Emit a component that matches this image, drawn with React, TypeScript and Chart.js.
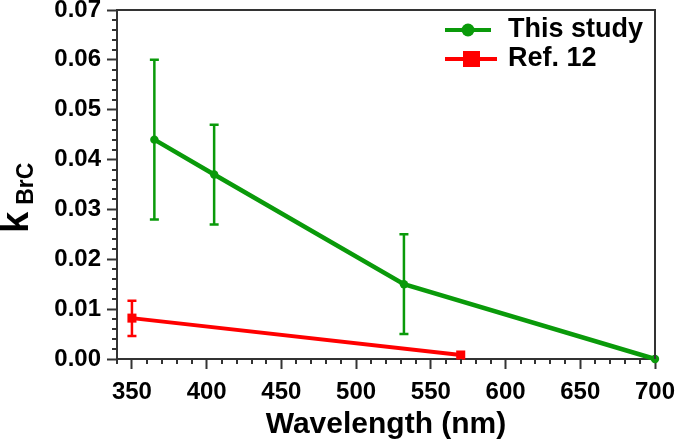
import React, { useEffect, useRef } from 'react';
import { Chart, registerables } from 'chart.js';

Chart.register(...registerables);

// ---------- data ----------
const thisStudyWavelength = [365, 405, 532, 700];
const thisStudyK = [0.044, 0.037, 0.015, 0.0];
const thisStudyLow = [0.028, 0.027, 0.005, null];
const thisStudyHigh = [0.06, 0.047, 0.025, null];

const refWavelength = [350, 570];
const refK = [0.0082, 0.0008];
const refLow = [0.0046, null];
const refHigh = [0.0117, null];

const xTickValues = [350, 400, 450, 500, 550, 600, 650, 700];
const yTickValues = [0.0, 0.01, 0.02, 0.03, 0.04, 0.05, 0.06, 0.07];
const xMinorStep = 10;
const yMinorStep = 0.002;

const seriesLabels = ['This study', 'Ref. 12'];
const xTitle = 'Wavelength (nm)';
const yTitleMain = 'k';
const yTitleSub = 'BrC';

const GREEN = '#0a9a0a';
const RED = '#ff0000';
const AXIS = '#333333';
const FONT = "'Liberation Sans', Arial, sans-serif";

const errorBarPlugin = {
  id: 'errorBars',
  afterDatasetsDraw(chart: any) {
    const { ctx, scales } = chart;
    const xs = scales.x;
    const ys = scales.y;
    const sets = [
      { wl: thisStudyWavelength, lo: thisStudyLow, hi: thisStudyHigh, color: GREEN },
      { wl: refWavelength, lo: refLow, hi: refHigh, color: RED },
    ];
    ctx.save();
    for (const s of sets) {
      ctx.strokeStyle = s.color;
      ctx.lineWidth = 2.5;
      for (let i = 0; i < s.wl.length; i++) {
        const lo = s.lo[i];
        const hi = s.hi[i];
        if (lo == null || hi == null) continue;
        const x = xs.getPixelForValue(s.wl[i]);
        const y1 = ys.getPixelForValue(lo);
        const y2 = ys.getPixelForValue(hi);
        ctx.beginPath();
        ctx.moveTo(x, y1);
        ctx.lineTo(x, y2);
        ctx.moveTo(x - 4.5, y1);
        ctx.lineTo(x + 4.5, y1);
        ctx.moveTo(x - 4.5, y2);
        ctx.lineTo(x + 4.5, y2);
        ctx.stroke();
      }
    }
    ctx.restore();
  },
};

const framePlugin = {
  id: 'frameAndMinor',
  afterDraw(chart: any) {
    const { ctx, chartArea, scales } = chart;
    const xs = scales.x;
    const ys = scales.y;
    ctx.save();
    ctx.strokeStyle = AXIS;
    ctx.lineWidth = 2;
    // top & right frame
    ctx.beginPath();
    ctx.moveTo(chartArea.left, chartArea.top);
    ctx.lineTo(chartArea.right, chartArea.top);
    ctx.lineTo(chartArea.right, chartArea.bottom);
    ctx.stroke();
    // minor ticks x
    ctx.beginPath();
    for (let v = xs.min; v <= xs.max + 1e-9; v += xMinorStep) {
      if (xTickValues.some((t) => Math.abs(t - v) < 1e-6)) continue;
      const x = Math.round(xs.getPixelForValue(v));
      ctx.moveTo(x, chartArea.bottom);
      ctx.lineTo(x, chartArea.bottom + 5);
    }
    // minor ticks y
    for (let k = 0; k * yMinorStep <= ys.max + 1e-9; k++) {
      const v = k * yMinorStep;
      if (yTickValues.some((t) => Math.abs(t - v) < 1e-9)) continue;
      const y = Math.round(ys.getPixelForValue(v));
      ctx.moveTo(chartArea.left, y);
      ctx.lineTo(chartArea.left - 5, y);
    }
    ctx.stroke();

    // y title: k_BrC rotated
    ctx.fillStyle = '#000';
    ctx.translate(28, 233);
    ctx.rotate(-Math.PI / 2);
    ctx.textAlign = 'left';
    ctx.textBaseline = 'alphabetic';
    ctx.font = `bold 38px ${FONT}`;
    ctx.fillText(yTitleMain, 0, 0);
    const kw = ctx.measureText(yTitleMain).width;
    ctx.font = `bold 23px ${FONT}`;
    ctx.fillText(yTitleSub, kw + 7, 5);
    ctx.restore();

    // legend
    ctx.save();
    const entries = [
      { label: seriesLabels[0], color: GREEN, y: 30, x1: 445, x2: 491, marker: 'circle' },
      { label: seriesLabels[1], color: RED, y: 59, x1: 445, x2: 497, marker: 'rect' },
    ];
    for (const e of entries) {
      ctx.strokeStyle = e.color;
      ctx.fillStyle = e.color;
      ctx.lineWidth = 4;
      ctx.beginPath();
      ctx.moveTo(e.x1, e.y);
      ctx.lineTo(e.x2, e.y);
      ctx.stroke();
      if (e.marker === 'circle') {
        ctx.beginPath();
        ctx.arc(468, e.y, 6.5, 0, Math.PI * 2);
        ctx.fill();
      } else {
        ctx.fillRect(463, e.y - 8, 17, 16);
      }
      ctx.fillStyle = '#000';
      ctx.font = `bold 27px ${FONT}`;
      ctx.textAlign = 'left';
      ctx.textBaseline = 'middle';
      ctx.fillText(e.label, 508, e.y);
    }
    ctx.restore();
  },
};

export default function App() {
  const ref = useRef<HTMLCanvasElement | null>(null);
  useEffect(() => {
    if (!ref.current) return;
    const chart = new Chart(ref.current, {
      type: 'line',
      data: {
        datasets: [
          {
            label: seriesLabels[0],
            data: thisStudyWavelength.map((w, i) => ({ x: w, y: thisStudyK[i] })),
            borderColor: GREEN,
            backgroundColor: GREEN,
            borderWidth: 4.5,
            pointRadius: 4.2,
            pointBorderWidth: 0,
            pointStyle: 'circle',
            clip: false,
            tension: 0,
          },
          {
            label: seriesLabels[1],
            data: refWavelength.map((w, i) => ({ x: w, y: refK[i] })),
            borderColor: RED,
            backgroundColor: RED,
            borderWidth: 4,
            pointRadius: 6.4,
            pointBorderWidth: 0,
            pointStyle: 'rect',
            clip: false,
            tension: 0,
          },
        ],
      },
      options: {
        responsive: false,
        animation: false,
        devicePixelRatio: 1,
        layout: { padding: { left: 0, top: 10, right: 20, bottom: 0 }, autoPadding: false },
        plugins: {
          legend: { display: false },
          tooltip: { enabled: false },
        },
        scales: {
          x: {
            type: 'linear',
            min: 340,
            max: 700,
            afterBuildTicks: (s: any) => {
              s.ticks = xTickValues.map((v) => ({ value: v }));
            },
            afterFit: (s: any) => {
              s.height = 88;
              s.paddingLeft = 0;
              s.paddingRight = 0;
            },
            border: { display: true, color: AXIS, width: 2 },
            grid: {
              drawOnChartArea: false,
              drawTicks: true,
              tickLength: 10,
              tickWidth: 2,
              tickColor: AXIS,
              color: AXIS,
            },
            ticks: {
              color: '#000',
              padding: 9,
              maxRotation: 0,
              autoSkip: false,
              font: { family: FONT, size: 24, weight: 'bold' },
              callback: (v: any) => String(v),
            },
            title: {
              display: true,
              text: xTitle,
              color: '#000',
              font: { family: FONT, size: 30, weight: 'bold' },
              padding: { top: 0, bottom: 4 },
            },
          },
          y: {
            type: 'linear',
            min: 0,
            max: 0.07,
            afterBuildTicks: (s: any) => {
              s.ticks = yTickValues.map((v) => ({ value: v }));
            },
            afterFit: (s: any) => {
              s.width = 117;
              s.paddingTop = 0;
              s.paddingBottom = 0;
            },
            border: { display: true, color: AXIS, width: 2 },
            grid: {
              drawOnChartArea: false,
              drawTicks: true,
              tickLength: 10,
              tickWidth: 2,
              tickColor: AXIS,
              color: AXIS,
            },
            ticks: {
              color: '#000',
              padding: 6,
              autoSkip: false,
              font: { family: FONT, size: 24, weight: 'bold' },
              callback: (v: any) => Number(v).toFixed(2),
            },
          },
        },
      },
      plugins: [errorBarPlugin, framePlugin],
    } as any);
    return () => chart.destroy();
  }, []);
  return (
    <div style={{ position: 'absolute', left: 0, top: 0, width: 675, height: 447, background: '#fff' }}>
      <canvas ref={ref} width={675} height={447} />
    </div>
  );
}
